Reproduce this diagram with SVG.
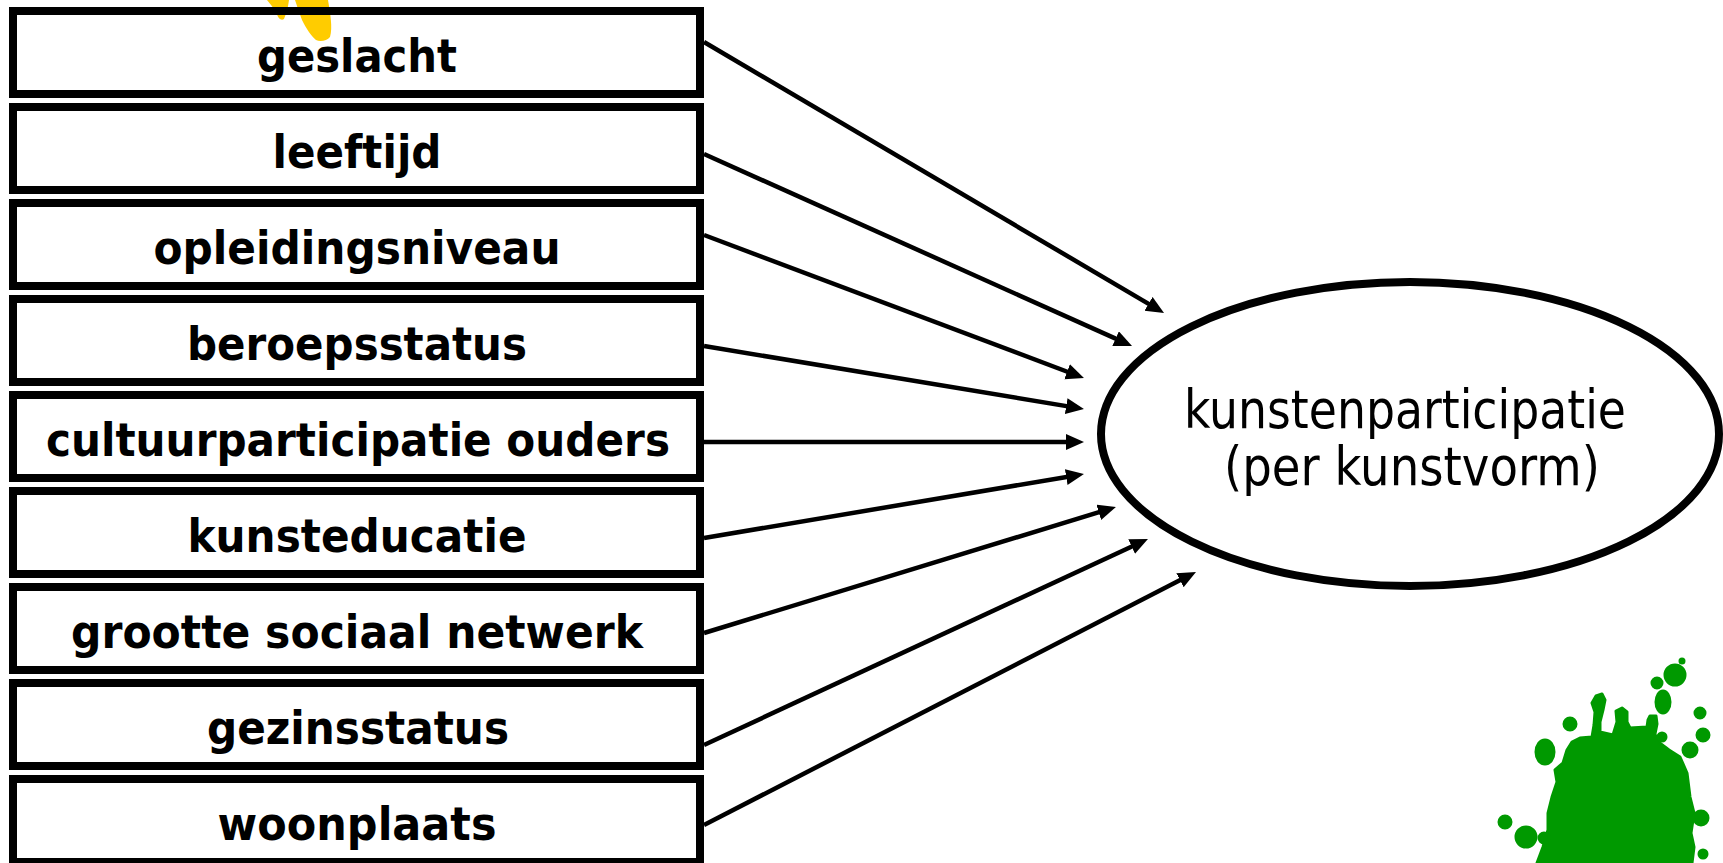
<svg xmlns="http://www.w3.org/2000/svg" width="1723" height="863" viewBox="0 0 1723 863">
<style>
.box{fill:none;stroke:#000;stroke-width:8}
.lbl{font-family:"DejaVu Sans","Liberation Sans",sans-serif;font-weight:bold;font-size:47px;fill:#000;text-anchor:middle}
.etxt{font-family:"DejaVu Sans","Liberation Sans",sans-serif;font-size:53px;fill:#000;text-anchor:middle}
.conn{stroke:#000;stroke-width:4.5;fill:none;marker-end:url(#ah)}
.green{fill:#009900}
</style>
<defs>
<marker id="ah" markerUnits="userSpaceOnUse" markerWidth="20" markerHeight="18" refX="8" refY="8" orient="auto">
<path d="M0,0 L18,8 L0,16 z" fill="#000"/>
</marker>
</defs>
<rect x="0" y="0" width="1723" height="863" fill="#fff"/>
<g id="splash-yellow" fill="#FFCC00">
<path d="M267,0 L289,0 C288,8 286,14 284,19 C281,21 278,18 277,14 C274,8 270,4 267,0 Z"/>
<path d="M295,0 L328,0 C330,12 333,28 330,37 C327,41 320,42 316,40 C311,36 306,28 302,20 C299,12 297,6 295,0 Z"/>
</g>
<g id="splash-green" class="green" stroke="#009900" stroke-width="3" stroke-linejoin="round">
<path d="M1537,863 L1543,847 L1548,830 L1548,813 L1552,797 L1557,782 L1555,770 L1563,763 L1567,750 L1572,742 L1580,738 L1592,737 L1594,725 L1595,712 L1592,703 L1596,696 L1602,694 L1605,700 L1603,710 L1600,722 L1600,732 L1613,735 L1617,722 L1616,711 L1622,708 L1627,712 L1627,722 L1630,728 L1647,727 L1648,720 L1650,716 L1656,716 L1657,724 L1655,734 L1657,741 L1669,750 L1680,757 L1687,773 L1690,797 L1694,813 L1691,833 L1694,847 L1692,863 Z"/>
<ellipse cx="1545" cy="752" rx="9" ry="12"/>
<circle cx="1570" cy="724" r="6"/>
<circle cx="1662" cy="737" r="4"/>
<circle cx="1700" cy="713" r="5"/>
<circle cx="1703" cy="735" r="6"/>
<circle cx="1690" cy="750" r="7"/>
<circle cx="1701" cy="818" r="7"/>
<circle cx="1703" cy="854" r="4"/>
<circle cx="1505" cy="822" r="6"/>
<circle cx="1526" cy="837" r="10"/>
<circle cx="1544" cy="838" r="5"/>
<ellipse cx="1663" cy="702" rx="7" ry="11"/>
<circle cx="1657" cy="683" r="5"/>
<circle cx="1675" cy="675" r="10"/>
<circle cx="1682" cy="661" r="2"/>
</g>
<g id="connectors">
<line class="conn" x1="704" y1="42" x2="1155.4" y2="307.9"/>
<line class="conn" x1="704" y1="154" x2="1122.9" y2="341.9"/>
<line class="conn" x1="704" y1="235" x2="1074.6" y2="374.5"/>
<line class="conn" x1="704" y1="346" x2="1074.1" y2="407.4"/>
<line class="conn" x1="704" y1="442" x2="1074" y2="442"/>
<line class="conn" x1="704" y1="538" x2="1074.1" y2="475.7"/>
<line class="conn" x1="704" y1="633" x2="1106.4" y2="509.9"/>
<line class="conn" x1="704" y1="745" x2="1138.9" y2="543.2"/>
<line class="conn" x1="704" y1="825" x2="1187.1" y2="576.6"/>
</g>
<g id="n-geslacht"><rect class="box" x="13" y="11" width="687" height="83"/><text class="lbl" x="357" y="72" textLength="200" lengthAdjust="spacingAndGlyphs">geslacht</text></g>
<g id="n-leeftijd"><rect class="box" x="13" y="107" width="687" height="83"/><text class="lbl" x="357" y="168" textLength="169" lengthAdjust="spacingAndGlyphs">leeftijd</text></g>
<g id="n-opleidingsniveau"><rect class="box" x="13" y="203" width="687" height="83"/><text class="lbl" x="357" y="264" textLength="407" lengthAdjust="spacingAndGlyphs">opleidingsniveau</text></g>
<g id="n-beroepsstatus"><rect class="box" x="13" y="299" width="687" height="83"/><text class="lbl" x="357" y="360" textLength="340" lengthAdjust="spacingAndGlyphs">beroepsstatus</text></g>
<g id="n-cultuurparticipatie"><rect class="box" x="13" y="395" width="687" height="83"/><text class="lbl" x="358" y="456" textLength="624" lengthAdjust="spacingAndGlyphs">cultuurparticipatie ouders</text></g>
<g id="n-kunsteducatie"><rect class="box" x="13" y="491" width="687" height="83"/><text class="lbl" x="357" y="552" textLength="339" lengthAdjust="spacingAndGlyphs">kunsteducatie</text></g>
<g id="n-netwerk"><rect class="box" x="13" y="587" width="687" height="83"/><text class="lbl" x="357" y="648" textLength="572" lengthAdjust="spacingAndGlyphs">grootte sociaal netwerk</text></g>
<g id="n-gezinsstatus"><rect class="box" x="13" y="683" width="687" height="83"/><text class="lbl" x="358" y="744" textLength="302" lengthAdjust="spacingAndGlyphs">gezinsstatus</text></g>
<g id="n-woonplaats"><rect class="box" x="13" y="779" width="687" height="83"/><text class="lbl" x="357" y="840" textLength="279" lengthAdjust="spacingAndGlyphs">woonplaats</text></g>
<g id="n-kunstenparticipatie">
<ellipse cx="1410" cy="434" rx="309" ry="152" fill="#fff" stroke="#000" stroke-width="8"/>
<text class="etxt" x="1405" y="428" textLength="442" lengthAdjust="spacingAndGlyphs">kunstenparticipatie</text>
<text class="etxt" x="1412" y="485" textLength="376" lengthAdjust="spacingAndGlyphs">(per kunstvorm)</text>
</g>
</svg>
